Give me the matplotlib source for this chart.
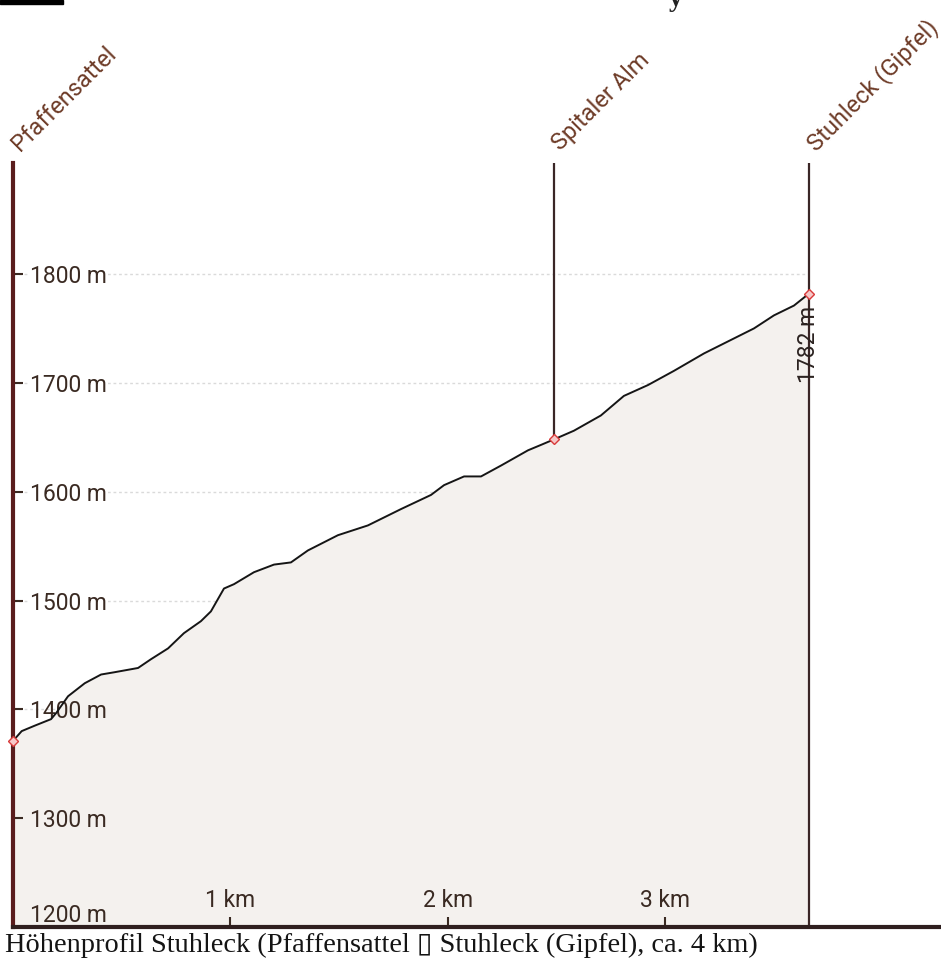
import matplotlib
matplotlib.use("Agg")
import matplotlib.pyplot as plt
from matplotlib.patches import Rectangle

# ---- data ----
dist_km = [0.0, 0.04, 0.10, 0.175, 0.20, 0.253, 0.33, 0.405, 0.464, 0.575, 0.634,
           0.713, 0.786, 0.864, 0.910, 0.970, 1.016, 1.108, 1.20, 1.278, 1.356,
           1.494, 1.632, 1.784, 1.922, 1.982, 2.074, 2.152, 2.244, 2.368, 2.428,
           2.487, 2.579, 2.703, 2.809, 2.92, 3.039, 3.177, 3.287, 3.407, 3.499,
           3.591, 3.66]
elev_m = [1371, 1380, 1385, 1391, 1397, 1412, 1424, 1432, 1434, 1438, 1446,
          1456, 1470, 1481, 1490, 1511, 1515, 1526, 1533, 1535, 1546,
          1560, 1569, 1584, 1597, 1606, 1614, 1614, 1624, 1638, 1643,
          1648, 1656, 1670, 1688, 1698, 1711, 1727, 1738, 1750, 1762,
          1771, 1782]

wp_names = ["Pfaffensattel", "Spitaler Alm", "Stuhleck (Gipfel)"]
wp_dist = [0.0, 2.487, 3.66]
wp_elev = [1371, 1648, 1782]

y_ticks = [1200, 1300, 1400, 1500, 1600, 1700, 1800]
y_labels = ["1200 m", "1300 m", "1400 m", "1500 m", "1600 m", "1700 m", "1800 m"]
x_ticks = [1, 2, 3]
x_labels = ["1 km", "2 km", "3 km"]
summit_label = "1782 m"
title = "Höhenprofil Stuhleck (Pfaffensattel \u25af Stuhleck (Gipfel), ca. 4 km)"

# ---- figure ----
fig = plt.figure(figsize=(9.41, 9.6), dpi=100)
fig.patch.set_facecolor("white")
ax = fig.add_axes([13 / 941, 33 / 960, 928 / 941, 764 / 960])
ax.set_facecolor("none")
ax.set_xlim(0, 4.267)
ax.set_ylim(1200, 1902)

sans = "Roboto"
tick_col = "#3a2a22"

# grid lines (behind the profile fill)
ax.hlines(y_ticks[1:], 0, wp_dist[-1], colors="#dadada", linestyles=(0, (2, 2)),
          linewidth=1.0, zorder=0)

# profile
ax.fill_between(dist_km, elev_m, 1200, color="#f4f1ee", zorder=1, linewidth=0)
ax.plot(dist_km, elev_m, color="#151515", linewidth=1.4, zorder=3)

# waypoint lines
for i in range(1, len(wp_dist)):
    bottom = 1200 if i == len(wp_dist) - 1 else wp_elev[i]
    ax.vlines(wp_dist[i], bottom, 1902, colors="#3a2626", linewidth=1.6, zorder=4)

ax.plot(wp_dist, wp_elev, linestyle="none", marker="D", markersize=5,
        markerfacecolor="#f6c8c8", markeredgecolor="#d83a3a", markeredgewidth=1.0,
        zorder=6, clip_on=False)

# waypoint labels
for name, d in zip(wp_names, wp_dist):
    ax.annotate(name, xy=(d, 1), xycoords=("data", "axes fraction"),
                xytext=(5, 8), textcoords="offset points", rotation=45,
                rotation_mode="anchor", ha="left", va="baseline",
                color="#6e3c28", fontsize=17, family=sans)

ax.annotate(summit_label, xy=(wp_dist[-1], wp_elev[-1]), xytext=(0, -9),
            textcoords="offset points", rotation=90, ha="center", va="top",
            color="#2b2220", fontsize=16.5, family=sans, zorder=7)

# spines
for s in ("top", "right"):
    ax.spines[s].set_visible(False)
ax.spines["left"].set_color("#5a1d1d")
ax.spines["left"].set_linewidth(3)
ax.spines["bottom"].set_color("#2f1f1f")
ax.spines["bottom"].set_linewidth(3)
ax.spines["left"].set_zorder(5)
ax.spines["bottom"].set_zorder(5)

# ticks
ax.set_yticks(y_ticks)
ax.set_yticklabels(y_labels)
ax.tick_params(axis="y", direction="in", length=7, width=1.5, color=tick_col,
               pad=-12, labelsize=16.5, labelcolor=tick_col)
for v, lab in zip(y_ticks, ax.get_yticklabels()):
    lab.set_ha("left")
    lab.set_family(sans)
    if v >= 1500:
        lab.set_bbox(dict(facecolor="white", edgecolor="none", pad=1.0))
ax.get_yticklabels()[0].set_va("bottom")
ax.yaxis.get_major_ticks()[0].tick1line.set_visible(False)

ax.set_xticks(x_ticks)
ax.set_xticklabels(x_labels)
ax.tick_params(axis="x", direction="in", length=7, width=1.5, color=tick_col,
               pad=-11, labelsize=16.5, labelcolor=tick_col)
for lab in ax.get_xticklabels():
    lab.set_va("bottom")
    lab.set_family(sans)

# caption
fig.text(5 / 941, 8 / 960, title, family=["Liberation Serif", "DejaVu Sans"],
         fontsize=20.4, ha="left", va="baseline", color="#141414")

# scan artifacts at the top edge
fig.add_artist(Rectangle((0, 1 - 4 / 960), 63 / 941, 4 / 960,
                         transform=fig.transFigure, color="black"))
fig.text(676 / 941, 1.0, "y", family="Liberation Serif", fontsize=20,
         fontweight="bold", ha="center", va="center", color="#222222")

fig.savefig("out.png", dpi=100, facecolor="white")
